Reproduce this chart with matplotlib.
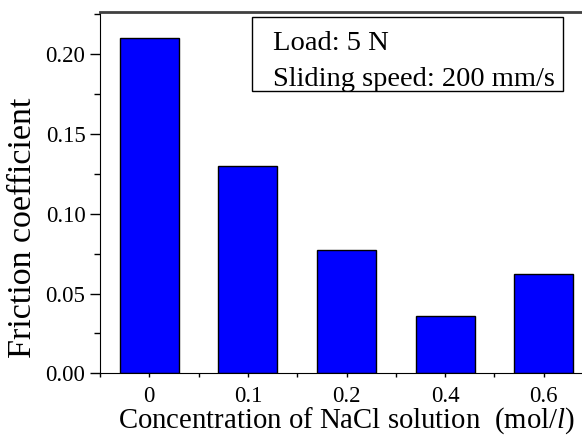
import matplotlib
matplotlib.use('Agg')
import matplotlib.pyplot as plt
from matplotlib.ticker import MultipleLocator

concentrations = ['0', '0.1', '0.2', '0.4', '0.6']
friction = [0.21, 0.130, 0.077, 0.036, 0.062]

plt.rcParams['font.family'] = 'Liberation Serif'
plt.rcParams['mathtext.fontset'] = 'custom'
plt.rcParams['mathtext.rm'] = 'Liberation Serif'
plt.rcParams['mathtext.it'] = 'Liberation Serif:italic'


def main():
    fig = plt.figure(figsize=(5.82, 4.36), dpi=100)
    ax = fig.add_axes([100 / 582, 62.7 / 436, 493 / 582, 361 / 436])
    x = range(len(concentrations))
    ax.bar(x, friction, width=0.6, color='#0000FF', edgecolor='black', linewidth=1)

    ax.set_xlim(-0.5, 4.5)
    ax.set_ylim(0, 0.2262)
    ax.set_xticks(list(x))
    ax.set_xticklabels(concentrations)
    ax.xaxis.set_minor_locator(MultipleLocator(0.5))
    ax.yaxis.set_major_locator(MultipleLocator(0.05))
    ax.yaxis.set_minor_locator(MultipleLocator(0.025))
    ax.yaxis.set_major_formatter(matplotlib.ticker.FormatStrFormatter('%.2f'))
    ax.tick_params(axis='y', which='major', direction='out', length=7, width=1, labelsize=16.5)
    ax.tick_params(axis='y', which='minor', direction='out', length=4, width=1)
    ax.tick_params(axis='x', which='both', direction='out', length=3, width=1, labelsize=16.5, pad=6)
    ax.spines['right'].set_visible(False)
    ax.spines['top'].set_color('#404040')
    ax.spines['top'].set_linewidth(2)

    ax.set_xlabel('Concentration of NaCl solution  (mol/$\\mathit{l}$)', fontsize=20.7, labelpad=-1)
    fig.text(23 / 582, 1 - 228 / 436, 'Friction coefficient', rotation=90,
             fontsize=24.5, ha='center', va='center')

    ax.text((273 - 100) / 493, 1 - (50 - 12.3) / 361, 'Load: 5 N', transform=ax.transAxes,
            fontsize=20.5, va='baseline')
    ax.text((273 - 100) / 493, 1 - (85.5 - 12.3) / 361, 'Sliding speed: 200 mm/s', transform=ax.transAxes,
            fontsize=20.5, va='baseline')
    box = plt.Rectangle(((252.3 - 100) / 493, 1 - (91.3 - 12.3) / 361),
                        311 / 493, 74.6 / 361, transform=ax.transAxes,
                        fill=False, edgecolor='black', linewidth=1)
    ax.add_patch(box)

    fig.savefig('out.png', dpi=100)


if __name__ == '__main__':
    main()
